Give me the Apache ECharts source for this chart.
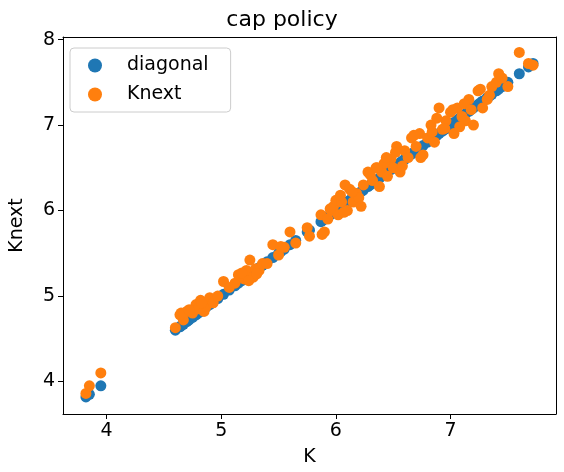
<!DOCTYPE html>
<html><head><meta charset="utf-8">
<script src="https://cdn.jsdelivr.net/npm/echarts@6/dist/echarts.min.js"></script>
<style>html,body{margin:0;padding:0;background:#fff}#c{width:564px;height:472px}</style>
</head><body><div id="c"></div>
<script>
const K = [3.82,3.85,3.95,4.6,4.65,4.67,4.7,4.75,4.78,4.8,4.82,4.85,4.87,4.9,4.93,4.97,5.02,5.07,5.12,5.15,5.2,5.22,5.25,5.28,5.3,5.33,5.36,5.4,5.45,5.5,5.55,5.6,5.65,5.75,5.77,5.87,5.9,5.93,5.96,5.98,6.0,6.02,6.05,6.08,6.1,6.12,6.15,6.18,6.2,6.24,6.28,6.32,6.35,6.38,6.4,6.42,6.45,6.48,6.5,6.53,6.56,6.6,6.63,6.66,6.7,6.73,6.76,6.8,6.83,6.86,6.9,6.93,6.96,7.0,7.03,7.06,7.1,7.13,7.16,7.2,7.24,7.28,7.32,7.36,7.4,7.45,7.5,7.6,7.68,7.72,
  4.64,4.72,4.83,5.18,5.24,5.31,5.52,5.88,5.95,6.04,6.07,6.14,6.22,6.3,6.36,6.44,6.52,6.58,6.68,6.74,6.84,6.88,6.95,7.02,7.08,7.12,7.18,7.26,7.34,7.42];
const Knext = [3.86,3.95,4.1,4.63,4.8,4.72,4.82,4.8,4.9,4.85,4.95,4.82,4.88,4.98,4.92,5.0,5.17,5.1,5.15,5.25,5.2,5.3,5.42,5.22,5.32,5.3,5.38,5.38,5.6,5.48,5.57,5.75,5.62,5.8,5.7,5.95,5.75,5.9,6.0,6.05,6.12,5.95,6.1,6.3,6.0,6.25,6.1,6.2,6.15,6.3,6.45,6.35,6.5,6.28,6.45,6.55,6.4,6.6,6.5,6.75,6.45,6.7,6.62,6.85,6.75,6.9,6.65,6.85,7.0,6.8,7.2,6.95,7.05,7.15,6.9,7.2,7.1,7.05,7.3,7.0,7.4,7.2,7.3,7.45,7.5,7.55,7.45,7.85,7.72,7.7,
  4.78,4.84,4.92,5.27,5.18,5.26,5.58,5.72,6.02,6.18,5.98,6.22,6.05,6.42,6.5,6.62,6.68,6.52,6.88,6.62,6.92,7.08,6.96,7.18,6.98,7.25,7.18,7.42,7.35,7.6];
const diag = K.map((k) => [k, k]);
const pts = K.map((k, i) => [k, Knext[i]]);
const chart = echarts.init(document.getElementById('c'));
const font = 'DejaVu Sans';
const ticksX = [4, 5, 6, 7];
const ticksY = [4, 5, 6, 7, 8];
chart.setOption({
  animation: false,
  textStyle: { fontFamily: font },
  title: { text: 'cap policy', left: 'center', top: 4, textStyle: { fontSize: 22, fontWeight: 'normal', color: '#000', fontFamily: font } },
  grid: { left: 58, right: 8, top: 37, bottom: 56 },
  legend: {
    left: 70, top: 48, orient: 'vertical', itemWidth: 14, itemHeight: 14, itemGap: 10,
    padding: [8, 22, 8, 18], borderColor: '#ccc', borderWidth: 1, borderRadius: 4,
    textStyle: { fontSize: 19, color: '#000', padding: [0, 0, 0, 20] },
    data: [{ name: 'diagonal', icon: 'circle' }, { name: 'Knext', icon: 'circle' }]
  },
  xAxis: [{
    min: 3.62, max: 7.92, name: 'K', nameLocation: 'middle', nameGap: 34,
    nameTextStyle: { fontSize: 19, color: '#000' },
    axisLine: { onZero: false, lineStyle: { color: '#000' } },
    axisLabel: { fontSize: 19, color: '#000', customValues: ticksX, formatter: (v) => v },
    axisTick: { customValues: ticksX, lineStyle: { color: '#000' } },
    splitLine: { show: false }
  }, { position: 'top', min: 3.62, max: 7.92, axisLine: { show: true, lineStyle: { color: '#000' } }, axisTick: { show: false }, axisLabel: { show: false }, splitLine: { show: false } }],
  yAxis: [{
    min: 3.62, max: 8.03, name: 'Knext', nameLocation: 'middle', nameGap: 36,
    nameTextStyle: { fontSize: 19, color: '#000' },
    axisLine: { show: true, onZero: false, lineStyle: { color: '#000' } },
    axisLabel: { fontSize: 19, color: '#000', customValues: ticksY, formatter: (v) => v },
    axisTick: { show: true, customValues: ticksY, lineStyle: { color: '#000' } },
    splitLine: { show: false }
  }, { position: 'right', min: 3.62, max: 8.03, axisLine: { show: true, lineStyle: { color: '#000' } }, axisTick: { show: false }, axisLabel: { show: false }, splitLine: { show: false } }],
  series: [
    { name: 'diagonal', type: 'scatter', data: diag, symbolSize: 11, itemStyle: { color: '#1f77b4', opacity: 1 } },
    { name: 'Knext', type: 'scatter', data: pts, symbolSize: 11, itemStyle: { color: '#ff7f0e', opacity: 1 } }
  ]
});
</script></body></html>
